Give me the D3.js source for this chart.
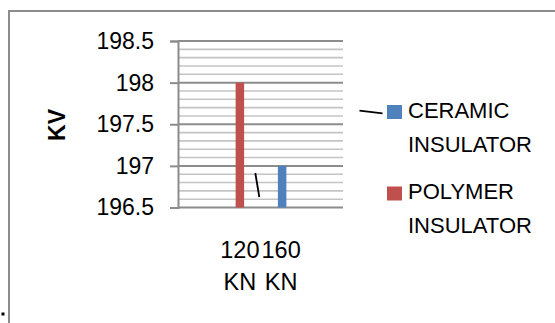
<!DOCTYPE html>
<html>
<head>
<meta charset="utf-8">
<script src="https://cdn.jsdelivr.net/npm/d3@7/dist/d3.min.js"></script>
<style>
  html, body { margin: 0; padding: 0; background: #fff; }
  svg { display: block; }
  text { font-family: "Liberation Sans", Arial, sans-serif; fill: #000; }
</style>
</head>
<body>
<svg id="chart" width="555" height="323"></svg>
<script>
// Breakdown voltage per insulator type (kV)
const categories = ["", "120 KN", "160 KN", ""];
const ceramic = [null, null, 197, null];
const polymer = [null, 198, null, null];
const seriesNames = ["CERAMIC INSULATOR", "POLYMER INSULATOR"];
const seriesColors = ["#4F81BD", "#C0504D"];
const yTicks = [196.5, 197, 197.5, 198, 198.5];
const yTitle = "KV";

const svg = d3.select("#chart");

// Frame around the chart area
svg.append("path")
  .attr("d", "M9,330 V11 H560")
  .attr("fill", "none")
  .attr("stroke", "#8c8c8c")
  .attr("stroke-width", 2);
svg.append("rect").attr("x", 1.5).attr("y", 312.5).attr("width", 3).attr("height", 3).attr("fill", "#000");

const plot = { left: 178, right: 343, top: 41, bottom: 207.5 };

const x = d3.scaleBand()
  .domain(d3.range(categories.length))
  .range([plot.left, plot.right])
  .padding(0);

const y = d3.scaleLinear()
  .domain([yTicks[0], yTicks[yTicks.length - 1]])
  .range([plot.bottom, plot.top]);

// Minor gridlines every 0.1
const minor = d3.range(Math.round((y.domain()[1] - y.domain()[0]) / 0.1) + 1)
  .map(i => y.domain()[0] + i * 0.1)
  .filter(v => !yTicks.some(t => Math.abs(t - v) < 1e-6));
svg.append("g").selectAll("line").data(minor).join("line")
  .attr("x1", plot.left).attr("x2", plot.right)
  .attr("y1", d => y(d)).attr("y2", d => y(d))
  .attr("stroke", "#c4c4c4").attr("stroke-width", 1.6);

// Major gridlines
svg.append("g").selectAll("line").data(yTicks).join("line")
  .attr("x1", plot.left).attr("x2", plot.right)
  .attr("y1", d => y(d)).attr("y2", d => y(d))
  .attr("stroke", "#8c8c8c").attr("stroke-width", 2);

// Y axis
const yAxis = svg.append("g")
  .attr("transform", `translate(${plot.left},0)`)
  .call(d3.axisLeft(y).tickValues(yTicks).tickSize(8).tickPadding(16)
    .tickFormat(d => String(d)));
yAxis.select(".domain").attr("stroke", "#8c8c8c").attr("stroke-width", 2);
yAxis.selectAll(".tick line").attr("stroke", "#8c8c8c").attr("stroke-width", 2);
yAxis.selectAll(".tick text")
  .style("font-family", '"Liberation Sans", Arial, sans-serif')
  .attr("font-size", 23).attr("fill", "#000");

// Y axis title
svg.append("text")
  .attr("transform", "translate(64.5,125) rotate(-90)")
  .attr("text-anchor", "middle")
  .attr("font-size", 23)
  .attr("font-weight", "bold")
  .text(yTitle);

// X axis labels (wrapped onto two lines)
const xAxis = svg.append("g")
  .attr("transform", `translate(0,${plot.bottom})`)
  .call(d3.axisBottom(x).tickSize(0).tickFormat(i => categories[i]));
xAxis.select(".domain").remove();
xAxis.selectAll(".tick text").each(function (i) {
  const t = d3.select(this);
  const words = categories[i].split(" ").filter(w => w);
  t.text(null).attr("y", 0).attr("dy", null)
    .style("font-family", '"Liberation Sans", Arial, sans-serif')
    .attr("font-size", 23.5).attr("fill", "#000");
  words.forEach((w, k) => {
    t.append("tspan").attr("x", 0).attr("y", 50 + k * 32.3).text(w);
  });
});

// Bars
const barW = 8.5;
const series = [ceramic, polymer];
series.forEach((vals, s) => {
  svg.append("g").selectAll("rect")
    .data(vals.map((v, i) => ({ v, i })).filter(d => d.v != null))
    .join("rect")
    .attr("x", d => x(d.i) + x.bandwidth() / 2 - barW / 2 + (s === 0 ? 1 : 0))
    .attr("width", barW)
    .attr("y", d => y(d.v))
    .attr("height", d => y(y.domain()[0]) - y(d.v))
    .attr("fill", seriesColors[s]);
});

// Short pen strokes
svg.append("line").attr("x1", 255.3).attr("y1", 173).attr("x2", 259.3).attr("y2", 197)
  .attr("stroke", "#000").attr("stroke-width", 1.8);
svg.append("line").attr("x1", 359.5).attr("y1", 110.7).attr("x2", 382.5).attr("y2", 113.3)
  .attr("stroke", "#000").attr("stroke-width", 1.8);

// Legend
const legend = svg.append("g");
const legendTop = [105, 186.5];
seriesNames.forEach((name, s) => {
  const g = legend.append("g").attr("transform", `translate(387,${legendTop[s]})`);
  g.append("rect").attr("width", 15).attr("height", 14).attr("fill", seriesColors[s]);
  const words = name.split(" ");
  const txt = g.append("text").attr("font-size", 22);
  words.forEach((w, k) => {
    txt.append("tspan").attr("x", 21).attr("y", 12.5 + k * 34).text(w);
  });
});
</script>
</body>
</html>
